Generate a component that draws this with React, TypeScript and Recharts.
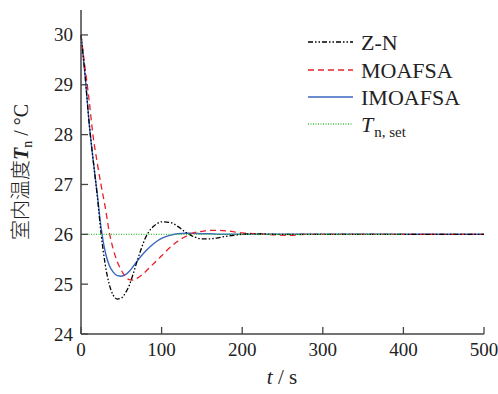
import React from 'react';
import { LineChart, Line, XAxis, YAxis } from 'recharts';

const timeS = [0, 5, 10, 15, 20, 25, 30, 35, 40, 45, 50, 55, 60, 65, 70, 75, 80, 85, 90, 95, 100,
	110, 120, 130, 140, 150, 160, 170, 180, 190, 200, 220, 240, 260, 280, 300, 350, 400, 450, 500];

const znTemp = [30, 29.2, 28.25, 27.5, 26.8, 26.0, 25.4, 25.0, 24.78, 24.7, 24.72, 24.82, 24.98, 25.22, 25.48, 25.72, 25.93, 26.07, 26.16, 26.22, 26.25,
	26.24, 26.16, 26.04, 25.95, 25.91, 25.91, 25.93, 25.96, 25.98, 26.0, 26.01, 26.0, 26.0, 26.0, 26, 26, 26, 26, 26];

const moafsaTemp = [30, 29.35, 28.7, 27.97, 27.45, 26.98, 26.55, 26.05, 25.7, 25.45, 25.28, 25.15, 25.09, 25.08, 25.12, 25.18, 25.25, 25.33, 25.41, 25.49, 25.57,
	25.73, 25.86, 25.96, 26.03, 26.06, 26.08, 26.08, 26.07, 26.05, 26.03, 26.01, 25.99, 25.98, 26.0, 26, 26, 26, 26, 26];

const imoafsaTemp = [30, 29.2, 28.25, 27.5, 26.83, 26.12, 25.65, 25.38, 25.24, 25.17, 25.16, 25.19, 25.26, 25.36, 25.47, 25.57, 25.66, 25.74, 25.81, 25.87, 25.92,
	25.98, 26.01, 26.02, 26.02, 26.01, 26.01, 26.0, 26.0, 26.0, 26.0, 26, 26, 26, 26, 26, 26, 26, 26, 26];

const setTemp = [26, 26, 26, 26, 26, 26, 26, 26, 26, 26, 26, 26, 26, 26, 26, 26, 26, 26, 26, 26, 26,
	26, 26, 26, 26, 26, 26, 26, 26, 26, 26, 26, 26, 26, 26, 26, 26, 26, null, null];

const xTicks = [0, 100, 200, 300, 400, 500];
const yTicks = [24, 25, 26, 27, 28, 29, 30];

const data = timeS.map((t, i) => ({
	t,
	zn: znTemp[i],
	moafsa: moafsaTemp[i],
	imoafsa: imoafsaTemp[i],
	set: setTemp[i],
}));

const serif = { fontFamily: "'Liberation Serif', Tinos, 'Times New Roman', 'DejaVu Serif'" };
const cjk = { fontFamily: "'Noto Sans CJK SC'", fontWeight: 300 };
const axisColor = '#444';
const textColor = '#222';

const BottomTick = (props: any) => {
	const { x, y, payload } = props;
	return (
		<g>
			<line x1={x} x2={x} y1={y} y2={y - 7} stroke={axisColor} strokeWidth={1.3} />
			<text x={x} y={y + 22} textAnchor="middle" style={serif} fontSize={19} fill={textColor}>
				{payload.value}
			</text>
		</g>
	);
};

const TopTick = (props: any) => {
	const { x, y } = props;
	return <line x1={x} x2={x} y1={y} y2={y + 7} stroke={axisColor} strokeWidth={1.3} />;
};

const LeftTick = (props: any) => {
	const { x, y, payload } = props;
	return (
		<g>
			<line x1={x} x2={x + 7} y1={y} y2={y} stroke={axisColor} strokeWidth={1.3} />
			<text x={x - 8} y={y + 6.5} textAnchor="end" style={serif} fontSize={19} fill={textColor}>
				{payload.value}
			</text>
		</g>
	);
};

const RightTick = (props: any) => {
	const { x, y } = props;
	return <line x1={x} x2={x - 7} y1={y} y2={y} stroke={axisColor} strokeWidth={1.3} />;
};

const legendRows = [
	{ y: 42, color: '#000', dash: '5 2 1.5 2 1.5 2', label: 'Z-N' },
	{ y: 70, color: '#e8202a', dash: '6 4', label: 'MOAFSA' },
	{ y: 97, color: '#3a67c0', dash: undefined, label: 'IMOAFSA' },
];

const Overlay = () => (
	<svg width={498} height={394} style={{ position: 'absolute', left: 0, top: 0, pointerEvents: 'none' }}>
		{legendRows.map((r) => (
			<g key={r.label}>
				<line x1={308} x2={353} y1={r.y} y2={r.y} stroke={r.color} strokeWidth={1.3} strokeDasharray={r.dash} />
				<text x={361} y={r.y + 7.5} style={serif} fontSize={22} fill={textColor}>
					{r.label}
				</text>
			</g>
		))}
		<line x1={308} x2={353} y1={124} y2={124} stroke="#3cc43c" strokeWidth={1.3} strokeDasharray="1 1.5" />
		<text x={361} y={131.5} style={serif} fill={textColor}>
			<tspan fontSize={22} fontStyle="italic">T</tspan>
			<tspan fontSize={15} dy={5} dx={1}>n, set</tspan>
		</text>
		<text x={282} y={384} textAnchor="middle" style={serif} fontSize={21} fill={textColor}>
			<tspan fontStyle="italic">t</tspan>
			<tspan> / s</tspan>
		</text>
		<text transform="translate(28, 172) rotate(-90)" textAnchor="middle" style={serif} fontSize={20} fill={textColor}>
			<tspan style={cjk}>室内温度</tspan>
			<tspan fontStyle="italic" fontWeight="bold">T</tspan>
			<tspan fontSize={14} dy={4}>n</tspan>
			<tspan dy={-4}> / °C</tspan>
		</text>
	</svg>
);

const App: React.FC = () => {
	return (
		<div style={{ position: 'fixed', left: 0, top: 0, width: 498, height: 394, background: '#fff' }}>
			<LineChart width={498} height={394} data={data} margin={{ top: 10, right: 14, bottom: 0, left: 0 }}>
				<XAxis
					xAxisId="bottom"
					dataKey="t"
					type="number"
					domain={[0, 500]}
					ticks={xTicks}
					interval={0}
					height={60}
					tickSize={0}
					tickMargin={0}
					tickLine={false}
					tick={<BottomTick />}
					stroke={axisColor}
					strokeWidth={1.5}
				/>
				<XAxis
					xAxisId="top"
					orientation="top"
					dataKey="t"
					type="number"
					domain={[0, 500]}
					ticks={xTicks}
					interval={0}
					height={0}
					tickSize={0}
					tickMargin={0}
					tickLine={false}
					tick={<TopTick />}
					stroke={axisColor}
					strokeWidth={1.5}
				/>
				<YAxis
					yAxisId="left"
					type="number"
					domain={[24, 30.5]}
					ticks={yTicks}
					interval={0}
					width={81}
					tickSize={0}
					tickMargin={0}
					tickLine={false}
					tick={<LeftTick />}
					stroke={axisColor}
					strokeWidth={1.5}
				/>
				<YAxis
					yAxisId="right"
					orientation="right"
					type="number"
					domain={[24, 30.5]}
					ticks={yTicks}
					interval={0}
					width={0}
					tickSize={0}
					tickMargin={0}
					tickLine={false}
					tick={<RightTick />}
					stroke={axisColor}
					strokeWidth={1.5}
				/>
				<Line xAxisId="bottom" yAxisId="left" type="monotone" dataKey="imoafsa" stroke="#3a67c0" strokeWidth={1.4} dot={false} isAnimationActive={false} />
				<Line xAxisId="bottom" yAxisId="left" type="monotone" dataKey="moafsa" stroke="#e8202a" strokeWidth={1.3} strokeDasharray="6 4" dot={false} isAnimationActive={false} />
				<Line xAxisId="bottom" yAxisId="left" type="monotone" dataKey="zn" stroke="#000" strokeWidth={1.3} strokeDasharray="5 2 1.5 2 1.5 2" dot={false} isAnimationActive={false} />
				<Line xAxisId="bottom" yAxisId="left" type="linear" dataKey="set" stroke="#3cc43c" strokeWidth={1.3} strokeDasharray="1 1.5" dot={false} isAnimationActive={false} />
			</LineChart>
			<Overlay />
		</div>
	);
};

export default App;
